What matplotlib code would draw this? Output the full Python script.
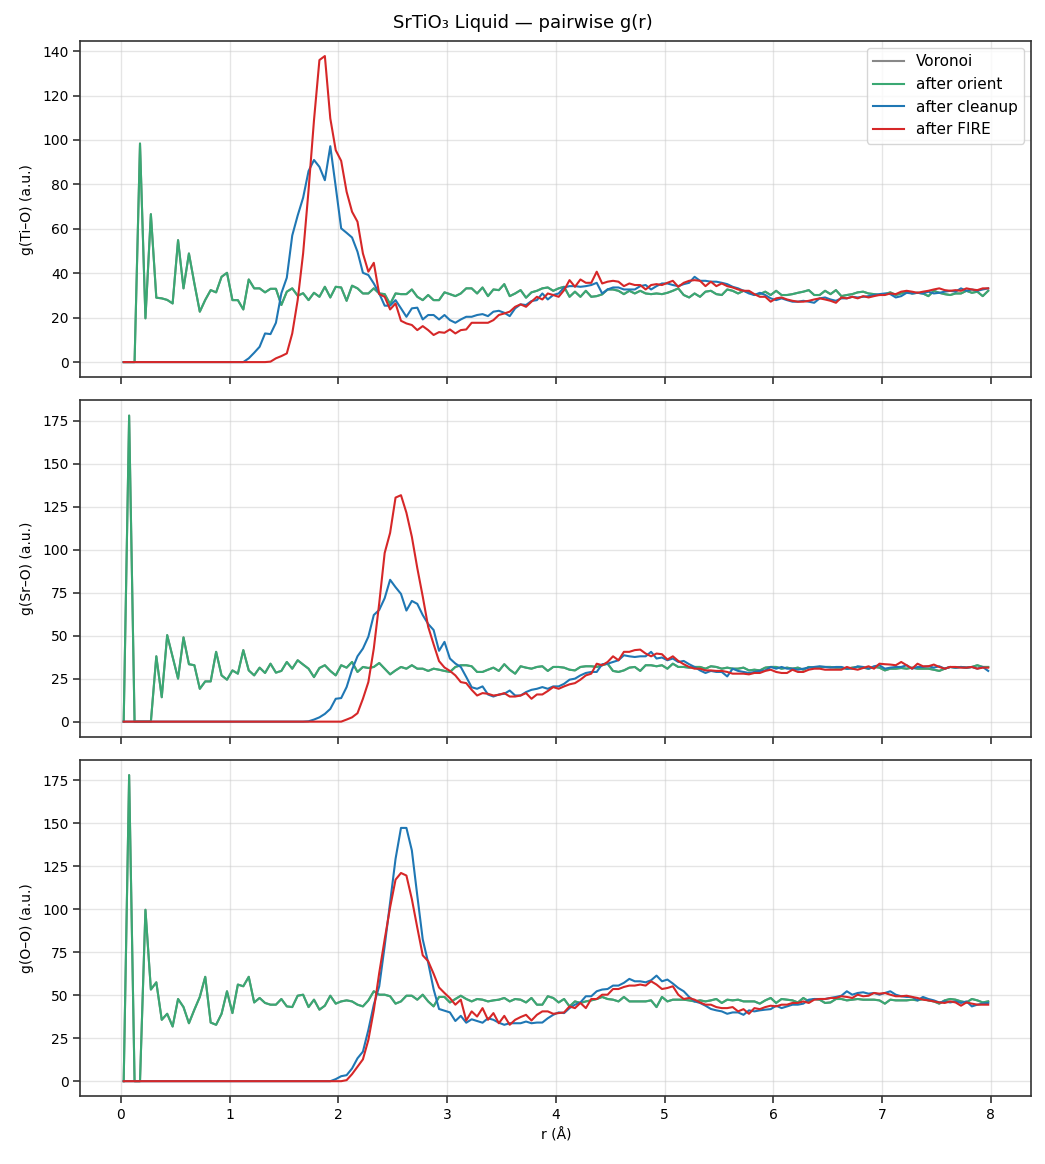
import numpy as np
import matplotlib
matplotlib.use("Agg")
import matplotlib.pyplot as plt

# bin centres, 0.05 A bins up to 8 A
r = np.arange(160) * 0.05 + 0.025

# ---- Ti-O ----
tio_orient = [
    0, 0, 0, 98.4, 19.7, 66.6, 29.0, 28.7, 28.0, 26.4,
    54.9, 33.2, 48.9, 35.4, 22.7, 28.0, 32.4, 31.4, 38.4, 40.2,
    27.9, 27.9, 23.7, 37.2, 33.2, 33.2, 31.4, 33.0, 33.0, 25.7,
    31.7, 33.2, 29.9, 31.0, 27.9, 31.2, 29.4, 33.9, 29.1, 33.9,
    33.6, 27.6, 34.4, 33.2, 30.9, 30.9, 33.2, 30.9, 30.6, 26.1,
    30.9, 30.6, 30.6, 32.7, 29.4, 27.9, 30.2, 27.9, 27.9, 31.4,
    30.6, 29.7, 30.9, 33.2, 33.2, 30.9, 33.6, 29.7, 32.7, 32.4,
    35.1, 29.7, 30.9, 32.4, 29.0, 31.4, 32.1, 33.2, 33.6, 32.1,
    33.2, 33.9, 29.4, 31.7, 29.4, 32.1, 29.4, 29.7, 30.5, 32.7,
    32.7, 32.1, 30.6, 32.1, 30.9, 32.1, 30.9, 30.6, 30.9, 30.6,
    31.2, 32.1, 33.2, 30.2, 29.1, 30.9, 29.4, 31.7, 32.1, 30.6,
    30.2, 32.7, 32.1, 30.9, 32.1, 31.7, 30.2, 30.6, 31.7, 30.2,
    32.1, 30.2, 30.2, 30.6, 31.2, 31.7, 32.4, 30.2, 30.2, 32.1,
    30.6, 32.4, 29.7, 30.2, 30.6, 31.4, 31.7, 30.9, 30.6, 30.2,
    30.6, 31.4, 30.2, 30.9, 31.7, 30.9, 31.2, 30.9, 29.7, 32.1,
    31.2, 30.6, 30.2, 30.9, 30.9, 32.1, 31.2, 31.7, 29.7, 32.1,
]
tio_cleanup = [0.0] * 23 + [
    1.7, 4.2, 6.9, 12.9, 12.6, 17.7, 31.0,
    38.0, 57.0, 66.0, 74.0, 86.0, 91.0, 87.9, 81.9, 97.2, 78.9,
    60.2, 58.2, 56.1, 49.7, 40.2, 39.2, 35.4, 30.9, 25.4, 25.4,
    27.9, 24.2, 20.4, 24.2, 24.5, 19.2, 21.2, 21.2, 19.2, 21.2,
    18.9, 17.7, 19.2, 20.4, 20.4, 21.2, 21.6, 20.7, 22.7, 23.1,
    22.2, 20.7, 24.2, 26.0, 25.7, 27.5, 27.9, 30.9, 28.2, 30.2,
    30.9, 33.6, 34.2, 34.2, 33.9, 34.2, 34.7, 35.7, 30.9, 32.7,
    33.6, 33.6, 32.7, 32.7, 32.7, 34.2, 34.7, 32.7, 34.2, 35.4,
    35.4, 34.7, 34.2, 35.1, 35.7, 38.4, 36.6, 36.6, 36.2, 36.2,
    35.7, 35.1, 33.9, 33.2, 32.1, 30.9, 30.2, 31.2, 30.2, 28.7,
    27.9, 28.7, 27.9, 27.2, 27.2, 27.6, 27.2, 26.7, 28.7, 29.1,
    28.2, 27.6, 28.7, 28.7, 29.4, 29.1, 29.4, 29.7, 30.2, 30.6,
    30.9, 30.6, 29.1, 29.7, 31.2, 30.9, 31.2, 30.9, 31.7, 30.9,
    31.2, 31.7, 32.1, 31.7, 33.2, 32.1, 32.7, 32.1, 32.7, 33.2,
]
tio_fire = [0.0] * 27 + [
    0.2, 1.7, 2.7, 3.9,
    12.9, 27.9, 48.9, 77.4, 108.9, 136.0, 137.8, 109.7, 95.4,
    90.6, 76.7, 67.7, 63.2, 48.9, 40.7, 44.7, 30.6, 29.4, 23.7,
    26.4, 18.6, 17.4, 16.7, 14.4, 16.2, 14.4, 12.2, 13.5, 13.2,
    14.7, 12.9, 14.4, 14.7, 17.7, 17.7, 17.7, 17.7, 18.9, 21.2,
    21.9, 22.7, 24.9, 26.0, 24.9, 27.2, 29.4, 28.2, 30.9, 30.2,
    29.4, 32.4, 36.9, 33.9, 37.2, 35.7, 35.7, 40.7, 35.4, 36.2,
    36.6, 36.2, 34.2, 35.4, 34.7, 34.7, 32.7, 34.7, 35.1, 34.7,
    35.7, 36.6, 33.9, 35.7, 36.6, 36.9, 36.6, 34.2, 36.2, 34.2,
    35.4, 34.2, 33.6, 32.7, 32.1, 32.1, 30.6, 29.4, 29.4, 27.2,
    28.7, 29.1, 28.2, 27.6, 27.2, 27.2, 27.6, 28.2, 28.7, 28.2,
    27.6, 26.7, 29.1, 28.7, 29.4, 28.7, 29.7, 29.1, 29.7, 30.2,
    30.2, 30.9, 30.6, 31.7, 32.1, 31.7, 31.2, 31.7, 32.1, 32.7,
    33.2, 32.4, 32.1, 32.4, 32.1, 33.2, 32.7, 32.4, 33.2, 33.2,
]

# ---- Sr-O ----
sro_orient = [
    0, 178.0, 0, 0, 0, 0, 38.0, 14.2, 50.3, 37.6,
    25.0, 49.0, 33.4, 32.8, 19.1, 23.4, 23.4, 40.6, 26.9, 24.4,
    29.8, 27.9, 41.6, 29.8, 26.9, 31.4, 28.3, 33.7, 28.5, 29.5,
    34.7, 30.8, 35.7, 33.2, 30.8, 25.9, 31.2, 32.8, 29.5, 26.9,
    32.8, 31.4, 34.7, 28.9, 31.8, 31.2, 31.8, 34.1, 30.8, 27.5,
    29.8, 31.8, 30.8, 32.8, 30.8, 30.8, 29.5, 30.8, 30.2, 29.5,
    28.9, 31.8, 32.8, 32.8, 32.2, 28.9, 28.9, 30.2, 31.4, 29.5,
    33.4, 30.2, 27.9, 32.2, 31.4, 30.8, 31.8, 32.2, 29.5, 31.8,
    31.8, 31.4, 30.2, 29.8, 31.8, 32.2, 32.2, 31.8, 32.8, 33.7,
    29.5, 28.9, 29.8, 31.4, 31.8, 29.5, 32.8, 32.8, 32.2, 32.8,
    30.8, 33.7, 31.8, 31.8, 31.4, 31.8, 31.8, 30.8, 32.2, 31.8,
    30.8, 31.4, 30.8, 30.8, 31.4, 29.8, 30.2, 29.8, 31.4, 31.8,
    31.8, 30.8, 31.4, 30.8, 31.4, 30.2, 31.8, 31.4, 31.8, 31.8,
    31.8, 31.4, 31.4, 30.8, 31.4, 31.8, 31.4, 30.8, 31.8, 31.4,
    29.8, 30.8, 30.8, 31.2, 30.8, 31.4, 30.8, 30.8, 30.8, 30.2,
    29.5, 30.8, 31.8, 31.4, 31.8, 31.4, 31.8, 32.8, 31.8, 31.8,
]
sro_cleanup = [0.0] * 34 + [
    0.2, 1.2, 2.5, 4.5, 7.4, 13.3,
    13.7, 20.1, 30.2, 38.0, 42.5, 49.4, 62.0, 65.0, 71.8, 82.5,
    78.2, 74.3, 64.6, 70.2, 68.5, 62.0, 56.8, 53.3, 41.2, 46.4,
    36.7, 33.8, 31.8, 26.0, 20.0, 19.1, 20.5, 15.8, 14.6, 15.8,
    16.2, 18.1, 15.2, 15.2, 17.2, 18.5, 19.1, 20.1, 19.1, 20.5,
    20.5, 22.0, 24.4, 25.0, 26.9, 28.3, 28.9, 28.9, 33.4, 33.7,
    34.7, 35.7, 38.6, 38.0, 37.6, 38.0, 38.0, 40.6, 36.7, 37.3,
    35.7, 36.7, 34.7, 35.3, 33.4, 31.8, 29.8, 28.3, 29.5, 28.9,
    28.9, 26.3, 30.8, 29.5, 28.9, 28.3, 28.9, 29.5, 29.8, 31.8,
    30.8, 31.8, 30.8, 30.8, 30.2, 30.8, 31.4, 31.8, 32.2, 31.8,
    31.4, 31.8, 31.8, 30.8, 30.8, 32.2, 31.8, 30.8, 32.2, 32.8,
    30.8, 31.4, 31.8, 31.8, 32.8, 30.8, 31.8, 31.8, 32.2, 31.4,
    32.2, 30.8, 31.8, 31.4, 31.8, 31.4, 31.8, 30.8, 31.8, 29.5,
]
sro_fire = [0.0] * 41 + [
    1.2, 2.5, 4.9, 13.3, 23.0, 42.5, 68.9, 98.1, 109.8,
    130.3, 131.7, 121.5, 107.5, 89.3, 72.8, 55.2, 45.0, 35.2, 31.5,
    29.5, 26.9, 23.0, 22.4, 18.5, 15.2, 16.6, 16.2, 15.2, 15.6,
    16.6, 14.6, 14.6, 15.2, 16.6, 13.3, 15.8, 15.8, 17.8, 20.1,
    19.1, 20.5, 21.7, 22.4, 24.4, 26.9, 27.9, 33.7, 32.8, 34.7,
    38.0, 35.7, 40.6, 40.6, 41.6, 41.9, 39.6, 38.0, 39.6, 39.2,
    36.1, 38.0, 35.3, 33.4, 31.8, 30.8, 30.8, 29.8, 29.8, 29.5,
    29.5, 28.9, 27.9, 27.9, 27.9, 27.5, 28.3, 28.3, 29.5, 30.2,
    28.9, 28.3, 28.3, 30.2, 28.9, 28.9, 30.2, 30.8, 30.8, 30.2,
    30.2, 30.2, 30.2, 31.8, 30.8, 30.2, 31.2, 32.2, 30.8, 33.7,
    33.4, 33.2, 32.8, 34.7, 32.8, 30.8, 33.7, 32.2, 32.2, 33.2,
    31.8, 30.8, 31.8, 31.8, 31.4, 31.4, 31.8, 30.8, 31.4, 31.4,
]

# ---- O-O ----
oo_orient = [
    0, 178.0, 0, 0, 99.7, 53.3, 57.5, 35.7, 39.2, 31.8,
    47.8, 43.1, 33.7, 41.6, 49.0, 60.7, 34.1, 32.8, 39.2, 52.3,
    39.6, 56.2, 55.2, 60.7, 45.8, 48.4, 45.5, 44.5, 44.5, 47.8,
    43.5, 43.1, 49.7, 50.3, 43.1, 47.4, 41.6, 43.9, 49.7, 45.1,
    46.4, 47.0, 46.4, 44.5, 43.5, 47.0, 52.3, 50.3, 50.3, 49.4,
    45.1, 46.4, 49.7, 49.7, 47.4, 50.3, 46.4, 43.5, 49.0, 49.0,
    45.8, 47.8, 49.7, 47.8, 46.4, 47.8, 47.4, 46.4, 47.0, 47.4,
    48.4, 46.4, 47.8, 47.4, 45.8, 48.4, 44.5, 44.5, 49.4, 48.4,
    45.8, 47.8, 43.5, 46.4, 45.5, 46.4, 47.0, 47.8, 49.0, 47.8,
    47.4, 46.4, 49.0, 46.4, 46.4, 46.4, 46.4, 47.0, 43.1, 49.0,
    46.4, 47.4, 47.4, 47.4, 47.0, 46.4, 47.0, 46.4, 47.0, 47.8,
    45.5, 47.4, 47.0, 47.4, 46.4, 46.4, 46.4, 45.1, 47.0, 48.4,
    45.5, 47.8, 47.4, 47.0, 45.8, 48.4, 46.4, 47.8, 47.4, 45.5,
    45.8, 47.8, 47.8, 47.0, 47.4, 47.8, 47.4, 47.4, 47.4, 47.0,
    45.1, 47.4, 47.0, 47.0, 47.0, 47.4, 47.0, 47.8, 47.0, 46.4,
    45.1, 47.0, 47.8, 47.4, 46.4, 45.8, 47.8, 47.0, 45.8, 46.4,
]
oo_cleanup = [0.0] * 39 + [
    1.2, 2.9, 3.5, 7.4, 13.3, 17.2, 29.8, 44.5, 55.2, 78.6, 104.0,
    129.3, 147.3, 147.3, 134.2, 107.9, 82.5, 68.9, 53.5, 42.0, 41.0,
    40.0, 35.0, 38.0, 34.0, 36.0, 35.0, 34.0, 36.6, 35.7, 34.0,
    32.8, 33.7, 33.7, 33.7, 34.7, 33.7, 34.1, 34.1, 36.6, 38.6,
    40.0, 39.6, 42.5, 44.5, 45.8, 49.4, 49.4, 52.3, 53.3, 53.6,
    55.6, 55.6, 57.2, 59.5, 58.1, 58.1, 57.5, 58.7, 61.4, 58.1,
    59.1, 56.8, 54.2, 52.3, 49.0, 46.4, 45.5, 43.9, 42.0, 41.2,
    40.6, 39.2, 40.0, 40.0, 38.6, 41.2, 40.6, 41.2, 41.6, 41.9,
    43.9, 42.5, 43.5, 44.5, 44.5, 45.1, 47.4, 47.8, 47.8, 47.8,
    48.4, 49.0, 49.7, 52.3, 50.3, 51.3, 51.7, 50.9, 51.3, 50.3,
    51.3, 52.3, 50.3, 49.4, 49.0, 49.0, 47.0, 49.0, 47.8, 47.0,
    45.8, 46.4, 45.8, 46.4, 45.5, 46.4, 43.5, 44.5, 45.1, 45.5,
]
oo_fire = [0.0] * 41 + [
    0.6, 4.1, 8.4, 12.7, 24.0, 41.2, 63.0, 82.5, 101.1,
    117.2, 121.1, 119.6, 105.9, 89.3, 73.2, 69.8, 62.5, 54.5, 51.3,
    48.3, 44.5, 47.4, 35.3, 40.6, 37.6, 42.5, 35.7, 39.6, 33.7,
    38.0, 32.8, 35.7, 37.3, 38.6, 35.3, 38.6, 40.6, 40.6, 39.2,
    39.6, 40.0, 43.5, 42.5, 45.5, 42.5, 47.8, 47.8, 50.3, 50.3,
    53.6, 53.6, 54.8, 55.6, 55.6, 56.2, 55.6, 58.1, 56.2, 53.6,
    54.2, 55.2, 50.3, 47.8, 48.4, 47.4, 45.8, 44.5, 44.5, 43.1,
    42.5, 42.5, 43.1, 40.6, 41.9, 39.2, 42.5, 41.9, 43.1, 43.9,
    43.5, 44.5, 44.5, 45.5, 45.5, 46.4, 45.5, 47.4, 47.8, 47.8,
    48.4, 48.4, 49.4, 49.0, 48.4, 50.3, 49.4, 49.7, 51.3, 50.9,
    51.3, 50.3, 49.4, 49.4, 49.7, 49.0, 48.4, 47.4, 47.0, 46.4,
    45.8, 45.5, 46.4, 45.8, 43.9, 45.8, 45.1, 44.5, 44.5, 44.5,
]

# Voronoi curve coincides with the post-orient one (hidden underneath)
voronoi_tio = tio_orient
voronoi_sro = sro_orient
voronoi_oo = oo_orient

stages = ["Voronoi", "after orient", "after cleanup", "after FIRE"]
colors = ["#888888", "#3aa873", "#1f77b4", "#d62728"]
panels = [
    ("g(Ti–O) (a.u.)", [voronoi_tio, tio_orient, tio_cleanup, tio_fire]),
    ("g(Sr–O) (a.u.)", [voronoi_sro, sro_orient, sro_cleanup, sro_fire]),
    ("g(O–O) (a.u.)", [voronoi_oo, oo_orient, oo_cleanup, oo_fire]),
]

for name, series in panels:
    for s in series:
        assert len(s) == len(r), (name, len(s))

plt.rcParams.update({
    "font.size": 10,
    "axes.edgecolor": "#333333",
    "axes.linewidth": 1.2,
    "xtick.color": "#333333",
    "ytick.color": "#333333",
    "xtick.labelcolor": "black",
    "ytick.labelcolor": "black",
})

fig, axes = plt.subplots(3, 1, figsize=(10.45, 11.64), dpi=100, sharex=True)
fig.subplots_adjust(left=0.077, right=0.987, top=0.965, bottom=0.058, hspace=0.068)

for ax, (ylabel, series) in zip(axes, panels):
    for label, color, vals in zip(stages, colors, series):
        ax.plot(r, vals, color=color, lw=1.5, label=label)
    ax.set_ylabel(ylabel, fontsize=10, labelpad=6)
    ax.grid(True, color="#cccccc", alpha=0.5, lw=1.0)
    ax.tick_params(labelsize=10, length=5, width=1.2)

axes[0].set_yticks(np.arange(0, 141, 20))
axes[0].legend(loc="upper right", fontsize=11, framealpha=0.8)
axes[2].set_xlabel("r (Å)", fontsize=10)
fig.suptitle("SrTiO₃ Liquid — pairwise g(r)", fontsize=13, y=0.988)

fig.savefig("out.png", dpi=100)
